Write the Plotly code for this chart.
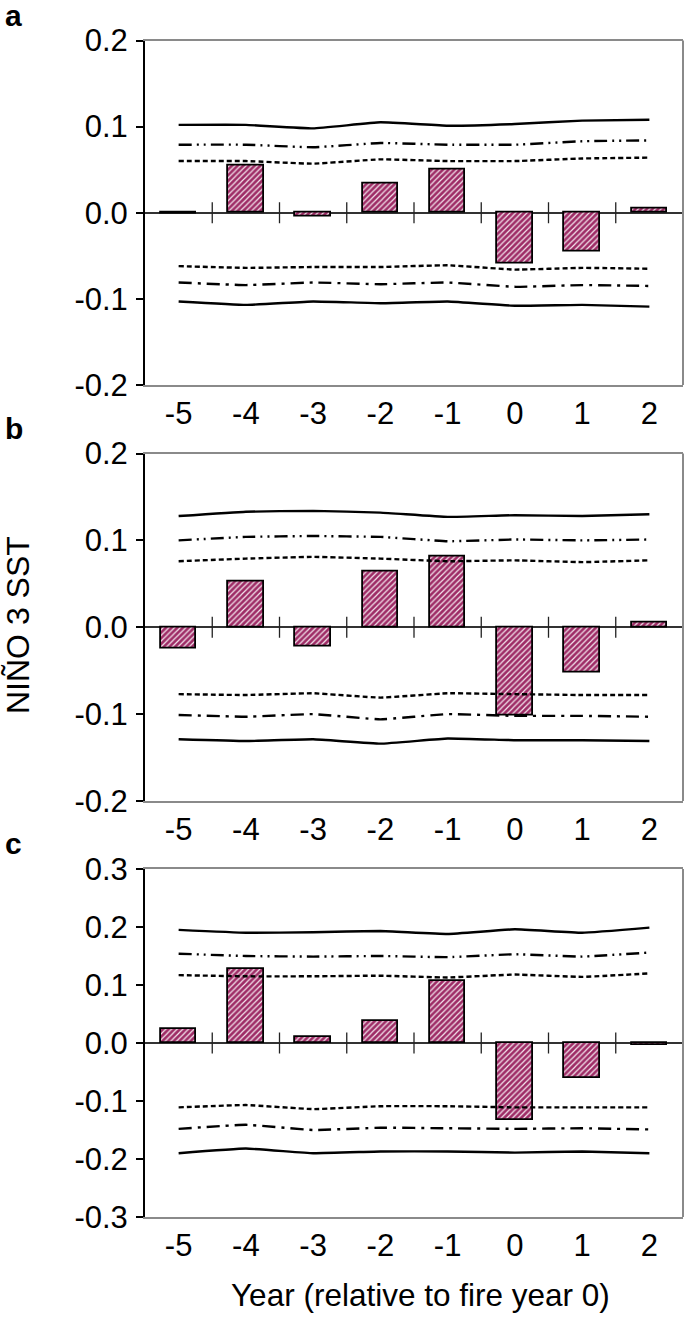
import plotly.graph_objects as go

years = ["-5", "-4", "-3", "-2", "-1", "0", "1", "2"]

# Panel a
a_bars = [-0.001, 0.055, -0.004, 0.034, 0.050, -0.059, -0.045, 0.005]
a_up99 = [0.102, 0.102, 0.098, 0.105, 0.101, 0.103, 0.107, 0.108]
a_up95 = [0.079, 0.079, 0.076, 0.081, 0.079, 0.079, 0.083, 0.084]
a_up90 = [0.060, 0.060, 0.057, 0.062, 0.060, 0.060, 0.063, 0.064]
a_lo90 = [-0.062, -0.064, -0.063, -0.063, -0.061, -0.066, -0.064, -0.065]
a_lo95 = [-0.081, -0.084, -0.081, -0.083, -0.081, -0.086, -0.084, -0.085]
a_lo99 = [-0.103, -0.107, -0.103, -0.105, -0.103, -0.108, -0.107, -0.109]

# Panel b
b_bars = [-0.025, 0.053, -0.022, 0.064, 0.081, -0.102, -0.052, 0.006]
b_up99 = [0.128, 0.133, 0.134, 0.132, 0.127, 0.129, 0.128, 0.130]
b_up95 = [0.100, 0.104, 0.105, 0.104, 0.099, 0.101, 0.100, 0.101]
b_up90 = [0.076, 0.079, 0.081, 0.079, 0.076, 0.077, 0.075, 0.077]
b_lo90 = [-0.077, -0.078, -0.076, -0.081, -0.076, -0.077, -0.078, -0.078]
b_lo95 = [-0.101, -0.103, -0.100, -0.106, -0.100, -0.102, -0.102, -0.103]
b_lo99 = [-0.129, -0.131, -0.129, -0.134, -0.128, -0.130, -0.130, -0.131]

# Panel c
c_bars = [0.025, 0.127, 0.010, 0.038, 0.107, -0.133, -0.061, -0.003]
c_up99 = [0.195, 0.190, 0.191, 0.193, 0.188, 0.196, 0.190, 0.199]
c_up95 = [0.154, 0.150, 0.149, 0.150, 0.148, 0.153, 0.149, 0.156]
c_up90 = [0.117, 0.115, 0.115, 0.116, 0.113, 0.118, 0.114, 0.120]
c_lo90 = [-0.111, -0.107, -0.114, -0.109, -0.109, -0.111, -0.111, -0.111]
c_lo95 = [-0.148, -0.141, -0.150, -0.146, -0.147, -0.148, -0.147, -0.149]
c_lo99 = [-0.190, -0.182, -0.190, -0.187, -0.187, -0.189, -0.187, -0.190]

a_ticks = ["0.2", "0.1", "0.0", "-0.1", "-0.2"]
a_tickvals = [0.2, 0.1, 0.0, -0.1, -0.2]
c_ticks = ["0.3", "0.2", "0.1", "0.0", "-0.1", "-0.2", "-0.3"]
c_tickvals = [0.3, 0.2, 0.1, 0.0, -0.1, -0.2, -0.3]

W, H = 685, 1317
FONT = "Liberation Sans, Arial, sans-serif"
BAR_BG = "#9E2C66"

panels = [
    dict(letter="a", bars=a_bars, up99=a_up99, up95=a_up95, up90=a_up90,
         lo90=a_lo90, lo95=a_lo95, lo99=a_lo99, rng=[-0.2, 0.2],
         tv=a_tickvals, tt=a_ticks, top=40.5, bot=385),
    dict(letter="b", bars=b_bars, up99=b_up99, up95=b_up95, up90=b_up90,
         lo90=b_lo90, lo95=b_lo95, lo99=b_lo99, rng=[-0.2, 0.2],
         tv=a_tickvals, tt=a_ticks, top=453.5, bot=801),
    dict(letter="c", bars=c_bars, up99=c_up99, up95=c_up95, up90=c_up90,
         lo90=c_lo90, lo95=c_lo95, lo99=c_lo99, rng=[-0.3, 0.3],
         tv=c_tickvals, tt=c_ticks, top=869, bot=1217),
]

xpos = list(range(len(years)))
bounds = [i + 0.5 for i in range(len(years) - 1)]

fig = go.Figure()
X0, X1 = 145 / W, 683 / W
DASH_DDOT = "13px,5px,2px,5px,2px,5px"
DASH_DOT = "13px,6px,3px,6px"
DASH_SHORT = "5px,3px"

annotations = []
shapes = []
for i, p in enumerate(panels, start=1):
    xa = "x" if i == 1 else f"x{i}"
    ya = "y" if i == 1 else f"y{i}"
    fig.add_trace(go.Bar(
        x=xpos, y=p["bars"], width=0.53, xaxis=xa, yaxis=ya,
        marker=dict(color=BAR_BG, line=dict(color="black", width=1.8),
                    pattern=dict(shape="/", fgcolor="#f4e6ee", bgcolor=BAR_BG,
                                 size=4, solidity=0.3, fillmode="replace")),
        showlegend=False, hoverinfo="skip"))
    styles = [("up99", "solid"), ("up95", DASH_DDOT), ("up90", DASH_SHORT),
              ("lo90", DASH_SHORT), ("lo95", DASH_DOT), ("lo99", "solid")]
    for key, dash in styles:
        fig.add_trace(go.Scatter(
            x=xpos, y=p[key], mode="lines", xaxis=xa, yaxis=ya,
            line=dict(color="black", width=2.4, dash=dash, shape="spline", smoothing=0.3),
            showlegend=False, hoverinfo="skip"))
    fig.add_trace(go.Scatter(
        x=bounds, y=[0] * len(bounds), mode="markers", xaxis=xa, yaxis=ya,
        marker=dict(symbol="line-ns", size=15, line=dict(color="#222", width=1.3)),
        showlegend=False, hoverinfo="skip", cliponaxis=False))

    ydom = [1 - p["bot"] / H, 1 - p["top"] / H]
    fig.update_layout(**{
        ("xaxis" if i == 1 else f"xaxis{i}"): dict(
            domain=[X0, X1], anchor=ya, range=[-0.5, 7.5], automargin=False,
            tickvals=xpos, ticktext=years, ticks="", showgrid=False,
            zeroline=False, showline=True, linecolor="#8a8a8a", linewidth=2,
            mirror=True, tickfont=dict(family=FONT, size=31, color="black"),
            ticklabelstandoff=0, fixedrange=True),
        ("yaxis" if i == 1 else f"yaxis{i}"): dict(
            domain=ydom, anchor=xa, range=p["rng"], tickvals=p["tv"], automargin=False,
            ticktext=p["tt"], ticks="outside", ticklen=7, tickwidth=1.5,
            tickcolor="black", showgrid=False, zeroline=True,
            zerolinecolor="#333", zerolinewidth=1.5, showline=True,
            linecolor="black", linewidth=2,
            tickfont=dict(family=FONT, size=31, color="black"),
            ticklabelstandoff=2, fixedrange=True),
    })
    shapes.append(dict(type="line", xref=f"{xa} domain", yref=f"{ya} domain",
                       x0=1, x1=1, y0=0, y1=1, line=dict(color="#8a8a8a", width=2)))
    annotations.append(dict(text=f"<b>{p['letter']}</b>", xref="paper", yref="paper",
                            x=3 / W, y=1 - (p["top"] - 25) / H, xanchor="left",
                            yanchor="middle", showarrow=False,
                            font=dict(family=FONT, size=30, color="black")))

annotations.append(dict(text="NIÑO 3 SST", xref="paper", yref="paper",
                        x=18 / W, y=1 - 625 / H, textangle=-90, showarrow=False,
                        xanchor="center", yanchor="middle",
                        font=dict(family=FONT, size=32, color="black")))
annotations.append(dict(text="Year (relative to fire year 0)", xref="paper", yref="paper",
                        x=420 / W, y=1 - 1295 / H, showarrow=False,
                        xanchor="center", yanchor="middle",
                        font=dict(family=FONT, size=31.5, color="black")))

fig.update_layout(width=W, height=H, margin=dict(l=0, r=0, t=0, b=0, autoexpand=False),
                  paper_bgcolor="white", plot_bgcolor="white",
                  annotations=annotations, shapes=shapes, bargap=0)
fig.write_html("out.html", config={"displayModeBar": False},
               post_script="document.body.style.margin='0px';")
